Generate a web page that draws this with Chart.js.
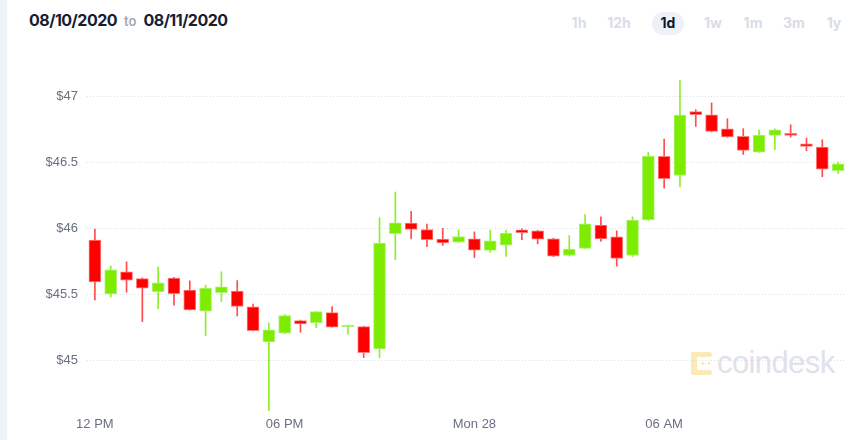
<!DOCTYPE html>
<html>
<head>
<meta charset="utf-8">
<script src="https://cdn.jsdelivr.net/npm/chart.js@4.4.0/dist/chart.umd.min.js"></script>
<style>
  html, body { margin: 0; padding: 0; background: #ffffff; }
  body { width: 862px; height: 440px; position: relative; overflow: hidden; font-family: "Liberation Sans", Arial, sans-serif; }
  #strip { position: absolute; left: 0; top: 0; width: 7px; height: 440px; background: #eff3f8; }
  #range { position: absolute; left: 29px; top: 10px; font-family: Inter, "Liberation Sans", sans-serif; font-weight: 700; font-size: 16px; color: #171d33; white-space: nowrap; letter-spacing: -0.5px; }
  #range .to { font-weight: 600; font-size: 13px; color: #a3a8b5; margin: 0 7px 0 7px; letter-spacing: 0; }
  .btn { position: absolute; top: 14px; width: 40px; margin-left: -20px; text-align: center; font-family: Inter, "Liberation Sans", sans-serif; font-weight: 700; font-size: 14px; color: #d9dde6; line-height: 18px; }
  #pill { position: absolute; left: 652px; top: 12px; width: 32px; height: 23px; border-radius: 12px; background: #eef2f8; }
  .btn.sel { color: #0f172a; }
  #chartwrap { position: absolute; left: 0; top: 0; width: 862px; height: 440px; }
  #wm { position: absolute; left: 690px; top: 348px; height: 30px; display: flex; align-items: center; }
  #wm span { font-family: "Liberation Sans", Arial, sans-serif; font-size: 31px; color: #dfe2ea; letter-spacing: -0.6px; margin-left: 4px; }
</style>
</head>
<body>
<div id="strip"></div>
<div id="range">08/10/2020<span class="to">to</span>08/11/2020</div>
<div id="pill"></div>
<div class="btn" style="left:579px">1h</div>
<div class="btn" style="left:619px">12h</div>
<div class="btn sel" style="left:668px">1d</div>
<div class="btn" style="left:713px">1w</div>
<div class="btn" style="left:753px">1m</div>
<div class="btn" style="left:794px">3m</div>
<div class="btn" style="left:834px">1y</div>
<div id="wm">
  <svg width="23" height="25" viewBox="0 0 23 25">
    <g fill="#fbeab8">
      <rect x="1" y="1" width="21" height="5" rx="2.5"/>
      <rect x="1" y="19" width="21" height="5" rx="2.5"/>
      <rect x="1" y="1" width="6" height="23" rx="3"/>
      <circle cx="13" cy="12.5" r="1.6"/>
      <circle cx="19" cy="12.5" r="1.6"/>
    </g>
  </svg>
  <span>coindesk</span>
</div>
<div id="chartwrap"><canvas id="c" width="862" height="440"></canvas></div>
<script>
// ---- data ----
const categories = [
  '12:00','12:30','13:00','13:30','14:00','14:30','15:00','15:30','16:00','16:30','17:00','17:30',
  '18:00','18:30','19:00','19:30','20:00','20:30','21:00','21:30','22:00','22:30','23:00','23:30',
  '00:00','00:30','01:00','01:30','02:00','02:30','03:00','03:30','04:00','04:30','05:00','05:30',
  '06:00','06:30','07:00','07:30','08:00','08:30','09:00','09:30','10:00','10:30','11:00','11:30'
];
const openPrices = [
  45.910, 45.503, 45.670, 45.619, 45.520, 45.622, 45.531, 45.372, 45.513, 45.524, 45.404, 45.139,
  45.205, 45.300, 45.285, 45.361, 45.252, 45.255, 45.086, 45.960, 46.040, 45.991, 45.918, 45.895,
  45.920, 45.832, 45.873, 45.988, 45.981, 45.920, 45.794, 45.847, 46.024, 45.935, 45.794, 46.064,
  46.545, 46.400, 46.884, 46.861, 46.755, 46.697, 46.578, 46.704, 46.709, 46.641, 46.616, 46.436
];
const highPrices = [
  45.994, 45.716, 45.746, 45.625, 45.706, 45.628, 45.602, 45.569, 45.670, 45.604, 45.425, 45.281,
  45.346, 45.305, 45.369, 45.407, 45.265, 45.258, 46.080, 46.275, 46.128, 46.032, 45.999, 45.989,
  45.973, 45.986, 45.986, 45.996, 45.985, 45.925, 45.945, 46.105, 46.087, 45.981, 46.087, 46.575,
  46.677, 47.119, 46.899, 46.950, 46.831, 46.755, 46.745, 46.755, 46.785, 46.684, 46.671, 46.502
];
const lowPrices = [
  45.457, 45.478, 45.516, 45.293, 45.390, 45.417, 45.380, 45.187, 45.445, 45.336, 45.222, 44.618,
  45.200, 45.212, 45.247, 45.250, 45.198, 45.020, 45.020, 45.761, 45.920, 45.860, 45.870, 45.893,
  45.778, 45.816, 45.786, 45.913, 45.882, 45.784, 45.790, 45.845, 45.900, 45.713, 45.786, 46.059,
  46.305, 46.313, 46.772, 46.730, 46.690, 46.560, 46.575, 46.596, 46.692, 46.588, 46.391, 46.416
];
const closePrices = [
  45.594, 45.685, 45.607, 45.546, 45.586, 45.505, 45.382, 45.546, 45.556, 45.407, 45.225, 45.230,
  45.338, 45.275, 45.369, 45.250, 45.258, 45.058, 45.888, 46.042, 45.991, 45.913, 45.890, 45.938,
  45.835, 45.905, 45.964, 45.966, 45.918, 45.789, 45.842, 46.034, 45.920, 45.771, 46.062, 46.548,
  46.376, 46.859, 46.861, 46.734, 46.692, 46.590, 46.707, 46.747, 46.704, 46.621, 46.449, 46.489
];
const tickAt   = ['12:00', '18:00', '00:00', '06:00'];
const tickText = ['12 PM', '06 PM', 'Mon 28', '06 AM'];
const yTicks   = [45, 45.5, 46, 46.5, 47];

// ---- styling ----
const UP = '#7dec00', UP_EDGE = '#aef27a', UP_WICK = '#8fee2a';
const DN = '#ff0000', DN_EDGE = '#ff7a7a', DN_WICK = '#ff4d4d';
const isUp = i => closePrices[i] >= openPrices[i];

const bodies = categories.map((_, i) => [openPrices[i], closePrices[i]]);
const wicks  = categories.map((_, i) => [lowPrices[i], highPrices[i]]);

new Chart(document.getElementById('c'), {
  type: 'bar',
  data: {
    labels: categories,
    datasets: [
      {
        label: 'wick',
        data: wicks,
        grouped: false,
        order: 2,
        barThickness: 1,
        backgroundColor: ctx => isUp(ctx.dataIndex) ? UP_WICK : DN_WICK,
        borderWidth: 0
      },
      {
        label: 'body',
        data: bodies,
        grouped: false,
        order: 1,
        barThickness: 12,
        minBarLength: 2,
        backgroundColor: ctx => isUp(ctx.dataIndex) ? UP : DN,
        borderColor: ctx => isUp(ctx.dataIndex) ? UP_EDGE : DN_EDGE,
        borderWidth: 1,
        borderSkipped: false
      }
    ]
  },
  options: {
    responsive: false,
    animation: false,
    events: [],
    layout: { padding: { top: 70, right: 16, bottom: 0, left: 0 } },
    plugins: { legend: { display: false }, tooltip: { enabled: false } },
    scales: {
      x: {
        offset: true,
        grid: { display: false, drawTicks: false },
        border: { display: false },
        afterFit: s => { s.height = 27; },
        ticks: {
          autoSkip: false,
          maxRotation: 0,
          padding: 4,
          color: '#69707f',
          font: { family: '"Liberation Sans", Arial, sans-serif', size: 13 },
          callback: function (v, i) {
            const k = tickAt.indexOf(categories[i]);
            return k >= 0 ? tickText[k] : '';
          }
        }
      },
      y: {
        min: 44.6,
        max: 47.2,
        afterFit: s => { s.width = 87; },
        afterBuildTicks: s => { s.ticks = yTicks.map(v => ({ value: v })); },
        grid: { color: '#d9dfea', lineWidth: 1, drawTicks: false },
        border: { display: false, dash: [1, 2] },
        ticks: {
          padding: 9,
          color: '#69707f',
          font: { family: '"Liberation Sans", Arial, sans-serif', size: 13 },
          callback: v => '$' + v
        }
      }
    }
  }
});
</script>
</body>
</html>
